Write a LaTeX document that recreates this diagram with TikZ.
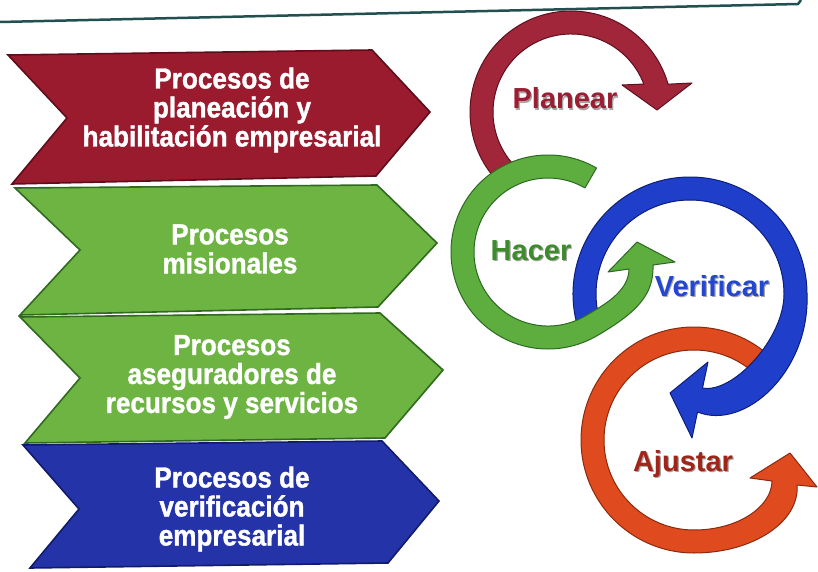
\documentclass[tikz,border=0pt]{standalone}
\usepackage{fontspec}
\setmainfont{Liberation Sans}
\newfontfamily\condfont[FakeStretch=0.9, BoldFeatures={FakeBold=1.2}]{Liberation Sans}
\definecolor{chred}{HTML}{9A1A2E}
\definecolor{chredd}{HTML}{5E0E1A}
\definecolor{chgreen}{HTML}{6DB443}
\definecolor{chgreend}{HTML}{2F6A1F}
\definecolor{chblue}{HTML}{2433A8}
\definecolor{chblued}{HTML}{111B6B}
\definecolor{rred}{HTML}{A1263A}
\definecolor{rredd}{HTML}{5E1020}
\definecolor{rgreen}{HTML}{5DAE3F}
\definecolor{rgreend}{HTML}{2C6A20}
\definecolor{rblue}{HTML}{1F3FCB}
\definecolor{rblued}{HTML}{0C1E7A}
\definecolor{rorange}{HTML}{E04A1F}
\definecolor{rorangd}{HTML}{8A2A0E}
\definecolor{lred}{HTML}{9B1F33}
\definecolor{lgreen}{HTML}{3E8B2D}
\definecolor{lblue}{HTML}{2447CF}
\definecolor{lorange}{HTML}{A02518}
\definecolor{lineteal}{HTML}{21504F}
\begin{document}
\begin{tikzpicture}[x=1pt,y=1pt,
  chev/.style={line width=1.6pt, line join=miter},
  ring/.style={line width=1pt, line join=round},
  ptext/.style={text=white, font=\condfont\fontsize{29}{29}\selectfont\bfseries, align=center, inner sep=0pt},
  rlabel/.style={font=\fontsize{29}{30}\selectfont\bfseries, inner sep=0pt, anchor=base},
  rshadow/.style={rlabel, text=black, opacity=0.35}]
\useasboundingbox (0,0) rectangle (818,571);
\fill[white] (0,0) rectangle (818,571);
% top rule
\draw[line width=2.5pt, color=lineteal] (0,549) -- (798,567) -- (801,571);
% chevrons
\draw[chev, fill=chred, draw=chredd] (8,516) -- (372,521) -- (430,459) -- (376,395) -- (12,387) -- (67,453) -- cycle;
\draw[chev, fill=chgreen, draw=chgreend] (15,383) -- (377,386) -- (437,328) -- (378,264) -- (20,256) -- (80,321) -- cycle;
\draw[chev, fill=chgreen, draw=chgreend] (20,254) -- (380,258) -- (443,201) -- (385,133) -- (25,128) -- (80,193) -- cycle;
\draw[chev, fill=chblue, draw=chblued] (23,126) -- (382,130) -- (439,70) -- (388,8) -- (30,3) -- (79,62) -- cycle;
\node[ptext] (t1) at (232,461) {Procesos de\\planeación y\\habilitación empresarial};
\node[ptext] (t2) at (230,322) {Procesos\\misionales};
\node[ptext] (t3) at (232,194) {Procesos\\aseguradores de\\recursos y servicios};
\node[ptext] (t4) at (232,62) {Procesos de\\verificación\\empresarial};
% Planear ring
\begin{scope}[shift={(571,459)}]
\draw[ring, fill=rred, draw=rredd] (225:101) arc[start angle=225, end angle=16, radius=101]
  -- (121,29) -- (86,2) -- (51,27) -- (21:78) arc[start angle=21, end angle=225, radius=78] -- cycle;
\end{scope}
% Ajustar ring
\begin{scope}[shift={(694,131)}]
\draw[ring, fill=rorange, draw=rorangd] (40:113) arc[start angle=40, end angle=270, radius=113]
  .. controls (60,-113) and (106,-81) .. (103,-45)
  -- (123,-47) -- (96,-13) -- (56,-38) -- (78,-41)
  .. controls (78,-66) and (45,-90) .. (0,-90)
  arc[start angle=270, end angle=40, radius=90] -- cycle;
\end{scope}
% Verificar ring
\begin{scope}[shift={(690,277)}]
\draw[ring, fill=rblue, draw=rblued] (200:117) arc[start angle=200, end angle=0, radius=117]
  .. controls (120,-77) and (55,-137) .. (7.5,-118)
  -- (2,-144) -- (-20,-99) -- (18,-68) -- (12.5,-94)
  .. controls (42.5,-100) and (94,-45) .. (94,0)
  arc[start angle=0, end angle=200, radius=94] -- cycle;
\end{scope}
% Hacer ring
\begin{scope}[shift={(548,319)}]
\draw[ring, fill=rgreen, draw=rgreend] (60:97) arc[start angle=60, end angle=300, radius=97]
  .. controls (90,-60) and (106,-42) .. (105,-13)
  -- (127,-10) -- (89,10) -- (60,-20) -- (81,-17)
  .. controls (81,-40) and (54,-54) .. (37,-64.1)
  arc[start angle=300, end angle=60, radius=74] -- cycle;
\end{scope}
% labels
\node[rshadow] (planear-s) at (566.2,460.8) {Planear};
\node[rlabel, text=lred] (planear) at (565,462) {Planear};
\node[rshadow] (hacer-s) at (532.2,309.8) {Hacer};
\node[rlabel, text=lgreen] (hacer) at (531,311) {Hacer};
\node[rshadow] (verificar-s) at (713.2,273.8) {Verificar};
\node[rlabel, text=lblue] (verificar) at (712,275) {Verificar};
\node[rshadow] (ajustar-s) at (684.2,98.8) {Ajustar};
\node[rlabel, text=lorange] (ajustar) at (683,100) {Ajustar};
\end{tikzpicture}
\end{document}
